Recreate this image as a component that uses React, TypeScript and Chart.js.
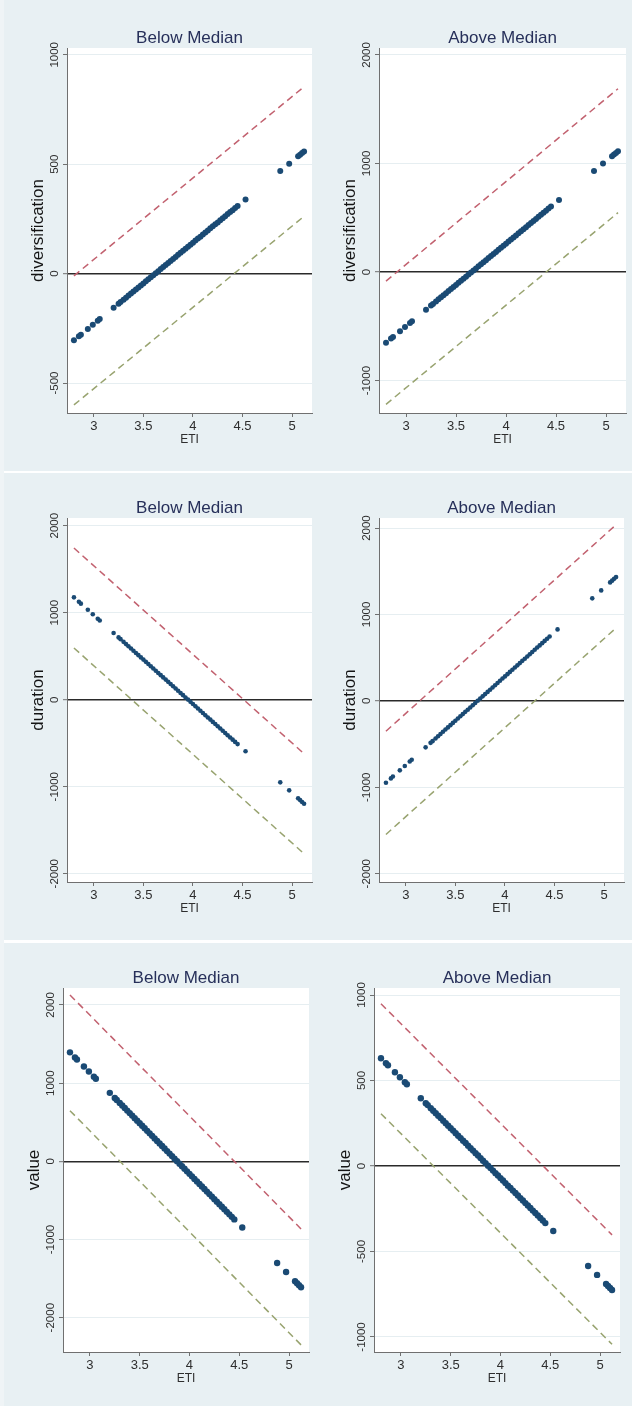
import React, { useEffect, useRef } from 'react';
import { Chart, registerables } from 'chart.js';

Chart.register(...registerables);

// ---------- data ----------
const ETI = [
  2.8, 2.85, 2.87, 2.94, 2.99, 3.04, 3.06, 3.2, 3.25, 3.27,
  3.3, 3.325, 3.35, 3.375, 3.4, 3.425, 3.45, 3.475, 3.5, 3.525,
  3.55, 3.575, 3.6, 3.625, 3.65, 3.675, 3.7, 3.725, 3.75, 3.775,
  3.8, 3.825, 3.85, 3.875, 3.9, 3.925, 3.95, 3.975, 4.0, 4.025,
  4.05, 4.075, 4.1, 4.125, 4.15, 4.175, 4.2, 4.225, 4.25, 4.275,
  4.3, 4.325, 4.35, 4.375, 4.4, 4.425, 4.45,
  4.53, 4.88, 4.97, 5.06, 5.08, 5.1, 5.12,
];

const DIVERSIFICATION_BELOW = [
  -305, -286, -279, -253, -234, -216, -208, -156, -138, -130,
  -119, -110, -100, -91, -82, -73, -63, -54, -45, -35,
  -26, -17, -7, 2, 11, 21, 30, 39, 48, 58,
  67, 76, 86, 95, 104, 114, 123, 132, 141, 151,
  160, 169, 179, 188, 197, 207, 216, 225, 234, 244,
  253, 262, 272, 281, 290, 300, 309,
  339, 469, 502, 536, 543, 551, 558,
];
const DIVERSIFICATION_ABOVE = [
  -650, -612, -597, -544, -506, -468, -452, -346, -308, -293,
  -270, -251, -232, -213, -194, -175, -156, -137, -118, -99,
  -80, -61, -42, -23, -4, 15, 34, 53, 72, 91,
  110, 129, 148, 167, 186, 205, 224, 243, 262, 281,
  300, 319, 338, 357, 376, 395, 414, 433, 452, 471,
  490, 509, 528, 547, 566, 585, 604,
  665, 931, 999, 1068, 1083, 1098, 1113,
];
const DURATION_BELOW = [
  1176, 1125, 1104, 1033, 982, 931, 910, 767, 716, 696,
  665, 639, 614, 588, 563, 537, 512, 486, 461, 435,
  410, 384, 358, 333, 307, 282, 256, 231, 205, 180,
  154, 128, 103, 77, 52, 26, 1, -25, -50, -76,
  -102, -127, -153, -178, -204, -229, -255, -280, -306, -331,
  -357, -383, -408, -434, -459, -485, -510,
  -592, -950, -1042, -1134, -1154, -1175, -1195,
];
const DURATION_ABOVE = [
  -948, -897, -876, -804, -753, -702, -681, -538, -486, -466,
  -435, -409, -384, -358, -332, -307, -281, -255, -230, -204,
  -178, -153, -127, -102, -76, -50, -25, 1, 27, 52,
  78, 104, 129, 155, 181, 206, 232, 258, 283, 309,
  335, 360, 386, 411, 437, 463, 488, 514, 540, 565,
  591, 617, 642, 668, 694, 719, 745,
  827, 1186, 1278, 1371, 1391, 1412, 1432,
];
const VALUE_BELOW = [
  1394, 1329, 1303, 1213, 1148, 1083, 1057, 876, 811, 785,
  747, 714, 682, 649, 617, 585, 552, 520, 488, 455,
  423, 390, 358, 326, 293, 261, 229, 196, 164, 131,
  99, 67, 34, 2, -31, -63, -95, -128, -160, -192,
  -225, -257, -290, -322, -354, -387, -419, -451, -484, -516,
  -549, -581, -613, -646, -678, -710, -743,
  -846, -1300, -1416, -1533, -1559, -1585, -1610,
];
const VALUE_ABOVE = [
  630, 601, 589, 548, 519, 490, 478, 396, 367, 356,
  338, 323, 309, 294, 280, 265, 250, 236, 221, 207,
  192, 177, 163, 148, 134, 119, 104, 90, 75, 61,
  46, 31, 17, 2, -12, -27, -42, -56, -71, -85,
  -100, -115, -129, -144, -158, -173, -188, -202, -217, -231,
  -246, -261, -275, -290, -304, -319, -334,
  -380, -585, -637, -690, -702, -713, -725,
];

// confidence bounds (dashed lines), at the ends of the ETI range
const CI_ETI = [2.8, 5.12];
const DIVERSIFICATION_BELOW_UPPER = [-10, 854];
const DIVERSIFICATION_BELOW_LOWER = [-600, 262];
const DIVERSIFICATION_ABOVE_UPPER = [-83, 1689];
const DIVERSIFICATION_ABOVE_LOWER = [-1218, 547];
const DURATION_BELOW_UPPER = [1743, -621];
const DURATION_BELOW_LOWER = [594, -1770];
const DURATION_ABOVE_UPPER = [-351, 2038];
const DURATION_ABOVE_LOWER = [-1546, 844];
const VALUE_BELOW_UPPER = [2128, -865];
const VALUE_BELOW_LOWER = [648, -2348];
const VALUE_ABOVE_UPPER = [949, -403];
const VALUE_ABOVE_LOWER = [306, -1043];

// ticks
const X_TICKS = [3, 3.5, 4, 4.5, 5];
const X_TICK_LABELS = ['3', '3.5', '4', '4.5', '5'];
const DIVERSIFICATION_BELOW_TICKS = [-500, 0, 500, 1000];
const DIVERSIFICATION_BELOW_TICK_LABELS = ['-500', '0', '500', '1000'];
const DIVERSIFICATION_ABOVE_TICKS = [-1000, 0, 1000, 2000];
const DIVERSIFICATION_ABOVE_TICK_LABELS = ['-1000', '0', '1000', '2000'];
const DURATION_TICKS = [-2000, -1000, 0, 1000, 2000];
const DURATION_TICK_LABELS = ['-2000', '-1000', '0', '1000', '2000'];
const VALUE_BELOW_TICKS = [-2000, -1000, 0, 1000, 2000];
const VALUE_BELOW_TICK_LABELS = ['-2000', '-1000', '0', '1000', '2000'];
const VALUE_ABOVE_TICKS = [-1000, -500, 0, 500, 1000];
const VALUE_ABOVE_TICK_LABELS = ['-1000', '-500', '0', '500', '1000'];

const X_MIN = 2.73;
const X_MAX = 5.2;

// ---------- styles ----------
const FONT = '"Liberation Sans", Arial, Helvetica, sans-serif';
const BG = '#e8f0f3';
const MARKER = '#1a4a74';
const UPPER_COLOR = '#c2616f';
const LOWER_COLOR = '#98a36f';
const AXIS_COLOR = '#707070';
const GRID_COLOR = '#e6eef1';
const ZERO_COLOR = '#2a2a2a';
const TITLE_COLOR = '#27305a';
const TEXT_COLOR = '#2e2e2e';

type PanelSpec = {
  title: string;
  yLabel: string;
  values: number[];
  upper: number[];
  lower: number[];
  yTicks: number[];
  yTickLabels: string[];
  yMin: number;
  yMax: number;
  cell: [number, number, number, number]; // left, top, width, height
  plot: [number, number, number, number]; // left, top, right, bottom
  radius: number;
};

const PANELS: PanelSpec[] = [
  {
    title: 'Below Median', yLabel: 'diversification',
    values: DIVERSIFICATION_BELOW, upper: DIVERSIFICATION_BELOW_UPPER, lower: DIVERSIFICATION_BELOW_LOWER,
    yTicks: DIVERSIFICATION_BELOW_TICKS, yTickLabels: DIVERSIFICATION_BELOW_TICK_LABELS,
    yMin: -637, yMax: 1031, cell: [0, 0, 316, 471], plot: [67, 48, 313, 413], radius: 3.0,
  },
  {
    title: 'Above Median', yLabel: 'diversification',
    values: DIVERSIFICATION_ABOVE, upper: DIVERSIFICATION_ABOVE_UPPER, lower: DIVERSIFICATION_ABOVE_LOWER,
    yTicks: DIVERSIFICATION_ABOVE_TICKS, yTickLabels: DIVERSIFICATION_ABOVE_TICK_LABELS,
    yMin: -1298, yMax: 2064, cell: [316, 0, 316, 471], plot: [379, 48, 626, 413], radius: 3.0,
  },
  {
    title: 'Below Median', yLabel: 'duration',
    values: DURATION_BELOW, upper: DURATION_BELOW_UPPER, lower: DURATION_BELOW_LOWER,
    yTicks: DURATION_TICKS, yTickLabels: DURATION_TICK_LABELS,
    yMin: -2095, yMax: 2088, cell: [0, 473, 316, 467], plot: [67, 518, 313, 882], radius: 2.3,
  },
  {
    title: 'Above Median', yLabel: 'duration',
    values: DURATION_ABOVE, upper: DURATION_ABOVE_UPPER, lower: DURATION_ABOVE_LOWER,
    yTicks: DURATION_TICKS, yTickLabels: DURATION_TICK_LABELS,
    yMin: -2096, yMax: 2116, cell: [316, 473, 316, 467], plot: [379, 518, 624, 882], radius: 2.3,
  },
  {
    title: 'Below Median', yLabel: 'value',
    values: VALUE_BELOW, upper: VALUE_BELOW_UPPER, lower: VALUE_BELOW_LOWER,
    yTicks: VALUE_BELOW_TICKS, yTickLabels: VALUE_BELOW_TICK_LABELS,
    yMin: -2439, yMax: 2217, cell: [0, 943, 316, 463], plot: [63, 988, 309, 1352], radius: 3.2,
  },
  {
    title: 'Above Median', yLabel: 'value',
    values: VALUE_ABOVE, upper: VALUE_ABOVE_UPPER, lower: VALUE_ABOVE_LOWER,
    yTicks: VALUE_ABOVE_TICKS, yTickLabels: VALUE_ABOVE_TICK_LABELS,
    yMin: -1088, yMax: 1041, cell: [316, 943, 316, 463], plot: [374, 988, 620, 1352], radius: 3.2,
  },
];

const X_AXIS_HEIGHT = 40;

function makeDecor(p: PanelSpec) {
  return {
    id: 'decor',
    beforeDraw(chart: any) {
      const { ctx, chartArea: a } = chart;
      ctx.save();
      ctx.fillStyle = '#ffffff';
      ctx.fillRect(a.left, a.top, a.right - a.left, a.bottom - a.top);
      ctx.restore();
    },
    afterDraw(chart: any) {
      const { ctx, chartArea: a } = chart;
      const ys = chart.scales.y;
      const cx = (a.left + a.right) / 2;
      const cy = (a.top + a.bottom) / 2;
      ctx.save();
      // panel title
      ctx.font = `17px ${FONT}`;
      ctx.fillStyle = TITLE_COLOR;
      ctx.textAlign = 'center';
      ctx.textBaseline = 'alphabetic';
      ctx.fillText(p.title, cx, a.top - 5.5);
      // y tick labels (rotated)
      ctx.font = `11.5px ${FONT}`;
      ctx.fillStyle = TEXT_COLOR;
      p.yTicks.forEach((v, i) => {
        const py = ys.getPixelForValue(v);
        ctx.save();
        ctx.translate(a.left - 9.5, py);
        ctx.rotate(-Math.PI / 2);
        ctx.fillText(p.yTickLabels[i], 0, 0);
        ctx.restore();
      });
      // y axis title
      ctx.font = `17px ${FONT}`;
      ctx.fillStyle = '#141414';
      ctx.save();
      ctx.translate(a.left - 24, cy);
      ctx.rotate(-Math.PI / 2);
      ctx.fillText(p.yLabel, 0, 0);
      ctx.restore();
      // x axis title
      ctx.font = `12px ${FONT}`;
      ctx.fillStyle = TEXT_COLOR;
      ctx.fillText('ETI', cx, a.bottom + 30);
      ctx.restore();
    },
  };
}

function Panel({ p }: { p: PanelSpec }) {
  const ref = useRef<HTMLCanvasElement | null>(null);
  useEffect(() => {
    const canvas = ref.current;
    if (!canvas) return;
    const [cl, ct, cw, ch] = p.cell;
    const [l, t, r, b] = p.plot;
    const points = ETI.map((x, i) => ({ x, y: p.values[i] }));
    const upper = CI_ETI.map((x, i) => ({ x, y: p.upper[i] }));
    const lower = CI_ETI.map((x, i) => ({ x, y: p.lower[i] }));
    const chart = new Chart(canvas, {
      type: 'scatter',
      data: {
        datasets: [
          {
            label: 'effect',
            data: points,
            pointRadius: p.radius,
            pointBackgroundColor: MARKER,
            pointBorderWidth: 0,
            showLine: false,
          },
          {
            label: 'upper',
            data: upper,
            showLine: true,
            pointRadius: 0,
            borderColor: UPPER_COLOR,
            borderWidth: 1.5,
            borderDash: [7, 4.5],
          },
          {
            label: 'lower',
            data: lower,
            showLine: true,
            pointRadius: 0,
            borderColor: LOWER_COLOR,
            borderWidth: 1.5,
            borderDash: [7, 4.5],
          },
        ],
      },
      options: {
        animation: false,
        responsive: false,
        maintainAspectRatio: false,
        devicePixelRatio: 1,
        events: [],
        layout: {
          padding: {
            left: l - cl,
            top: t - ct,
            right: cl + cw - r,
            bottom: ct + ch - b - X_AXIS_HEIGHT,
          },
        },
        plugins: {
          legend: { display: false },
          tooltip: { enabled: false },
          title: { display: false },
        },
        scales: {
          x: {
            type: 'linear',
            min: X_MIN,
            max: X_MAX,
            afterBuildTicks: (s: any) => {
              s.ticks = X_TICKS.map((v) => ({ value: v }));
            },
            afterFit: (s: any) => {
              s.height = X_AXIS_HEIGHT;
            },
            ticks: {
              autoSkip: false,
              maxRotation: 0,
              minRotation: 0,
              padding: 2,
              color: TEXT_COLOR,
              font: { family: FONT, size: 13 },
              callback: (_v: any, i: number) => X_TICK_LABELS[i],
            },
            grid: {
              drawOnChartArea: false,
              drawTicks: true,
              tickLength: 4,
              tickColor: AXIS_COLOR,
              tickWidth: 1,
            },
            border: { display: true, color: AXIS_COLOR, width: 1 },
          },
          y: {
            type: 'linear',
            min: p.yMin,
            max: p.yMax,
            afterBuildTicks: (s: any) => {
              s.ticks = p.yTicks.map((v) => ({ value: v }));
            },
            afterFit: (s: any) => {
              s.width = 0;
            },
            ticks: { display: false },
            grid: {
              drawOnChartArea: true,
              drawTicks: true,
              tickLength: 4,
              tickColor: AXIS_COLOR,
              tickWidth: 1,
              color: (c: any) => (c.tick && c.tick.value === 0 ? ZERO_COLOR : GRID_COLOR),
              lineWidth: (c: any) => (c.tick && c.tick.value === 0 ? 1.4 : 1),
            },
            border: { display: true, color: AXIS_COLOR, width: 1 },
          },
        },
      },
      plugins: [makeDecor(p)],
    } as any);
    return () => chart.destroy();
  }, [p]);
  const [cl, ct, cw, ch] = p.cell;
  return (
    <canvas
      ref={ref}
      width={cw}
      height={ch}
      style={{ position: 'absolute', left: cl, top: ct, width: cw, height: ch }}
    />
  );
}

export default function App() {
  return (
    <div
      style={{
        position: 'absolute',
        left: 0,
        top: 0,
        width: 632,
        height: 1406,
        background: '#ffffff',
        overflow: 'hidden',
      }}
    >
      <div style={{ position: 'absolute', left: 0, top: 0, width: 632, height: 471, background: BG }} />
      <div style={{ position: 'absolute', left: 0, top: 473, width: 632, height: 467, background: BG }} />
      <div style={{ position: 'absolute', left: 0, top: 943, width: 632, height: 463, background: BG }} />
      <div style={{ position: 'absolute', left: 0, top: 0, width: 4, height: 1406, background: '#eff4f6' }} />
      {PANELS.map((p, i) => (
        <Panel key={i} p={p} />
      ))}
    </div>
  );
}
